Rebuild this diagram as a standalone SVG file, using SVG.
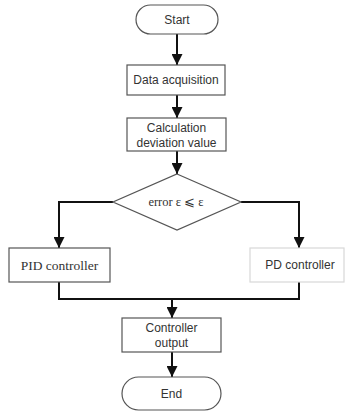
<svg xmlns="http://www.w3.org/2000/svg" width="345" height="411" viewBox="0 0 345 411">
<style>
.box{fill:#fff;stroke:#555;stroke-width:1.2}
.faint{fill:#fff;stroke:#d8d8d8;stroke-width:1.2}
.sans{font-family:"Liberation Sans",Arial,sans-serif;font-size:12px;fill:#333;text-anchor:middle;dominant-baseline:central}
.serif{font-family:"Liberation Serif","Times New Roman",serif;font-size:12.5px;fill:#333;text-anchor:middle;dominant-baseline:central}
.ln{fill:none;stroke:#111;stroke-width:2}
</style>
<defs>
<marker id="ah" viewBox="0 0 10 10" refX="10" refY="5" markerWidth="5.5" markerHeight="5.5" orient="auto" markerUnits="strokeWidth">
<path d="M0,0 L10,5 L0,10 z" fill="#111"/>
</marker>
</defs>
<rect width="345" height="411" fill="#fff"/>
<g id="connectors">
<path class="ln" d="M177,34 V65" marker-end="url(#ah)"/>
<path class="ln" d="M177,95 V118" marker-end="url(#ah)"/>
<path class="ln" d="M177,151 V174" marker-end="url(#ah)"/>
<path class="ln" d="M113,202 H59 V248" marker-end="url(#ah)"/>
<path class="ln" d="M241,202 H299 V248" marker-end="url(#ah)"/>
<path class="ln" d="M59,282 V299 H299 V282"/>
<path class="ln" d="M172,299 V318" marker-end="url(#ah)"/>
<path class="ln" d="M172,352 V377" marker-end="url(#ah)"/>
</g>
<g id="start">
<rect class="box" x="136" y="5" width="82" height="29" rx="14.5"/>
<text class="sans" x="177" y="20">Start</text>
</g>
<g id="data">
<rect class="box" x="127" y="65" width="98" height="30"/>
<text class="sans" x="176" y="80">Data acquisition</text>
</g>
<g id="calc">
<rect class="box" x="127" y="118" width="99" height="33"/>
<text class="sans" x="176.5" y="127.5">Calculation</text>
<text class="sans" x="176.5" y="143">deviation value</text>
</g>
<g id="decision">
<polygon class="box" points="177,174 241,202 177,230 113,202"/>
<text class="serif" x="176" y="202">error ε ⩽ ε</text>
</g>
<g id="pid">
<rect class="box" x="9" y="248" width="101" height="34"/>
<text class="serif" x="59.5" y="265" style="font-size:13.5px">PID controller</text>
</g>
<g id="pd">
<rect class="faint" x="250" y="248" width="94" height="34"/>
<text class="sans" x="300" y="265">PD controller</text>
</g>
<g id="output">
<rect class="box" x="122" y="318" width="99" height="34"/>
<text class="sans" x="171.5" y="327.5">Controller</text>
<text class="sans" x="171.5" y="343">output</text>
</g>
<g id="end">
<rect class="box" x="122" y="377" width="99" height="33" rx="16.5"/>
<text class="sans" x="171.5" y="394">End</text>
</g>
</svg>
